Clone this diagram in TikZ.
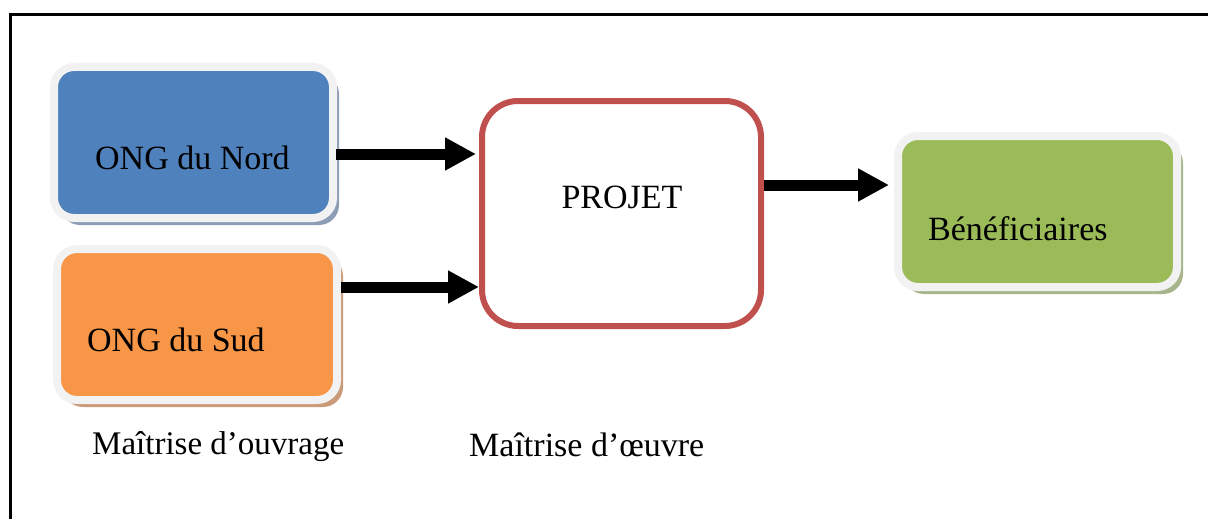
\documentclass[tikz,border=0pt]{standalone}
\usepackage{fontspec}
\setmainfont{Liberation Serif}
\usetikzlibrary{arrows.meta,shadows,calc}
\definecolor{cblue}{HTML}{4F81BD}
\definecolor{corange}{HTML}{F79646}
\definecolor{cgreen}{HTML}{9BBB59}
\definecolor{cred}{HTML}{C0504D}
\definecolor{cborder}{HTML}{F2F2F2}
\definecolor{sblue}{HTML}{8C9DB5}
\definecolor{sorange}{HTML}{C99B78}
\definecolor{sgreen}{HTML}{A8B58C}
\tikzset{
  colbox/.style={rectangle, rounded corners=20pt, draw=cborder, line width=8pt, inner sep=0pt},
  redbox/.style={rectangle, rounded corners=36pt, draw=cred, line width=6pt, fill=white, inner sep=0pt,
    minimum width=279pt, minimum height=225pt},
  txt/.style={font=\fontsize{34}{40}\selectfont, inner sep=0pt, anchor=base west},
  arr/.style={line width=11pt, -{Triangle[length=31pt,width=31pt]}},
}
\begin{document}
\begin{tikzpicture}[x=1pt,y=-1pt]
\useasboundingbox (0,0) rectangle (1208,519);
\draw[line width=3pt] (10,519) -- (10,15) -- (1208,15);
% boxes
\node[colbox, fill=cblue, minimum width=279pt, minimum height=151pt,
  drop shadow={shadow xshift=6pt, shadow yshift=-7pt, fill=sblue, opacity=1}]
  (nord) at (193.5,142.5) {};
\node[colbox, fill=corange, minimum width=280pt, minimum height=151pt,
  drop shadow={shadow xshift=6pt, shadow yshift=-7pt, fill=sorange, opacity=1}]
  (sud) at (197,324.5) {};
\node[colbox, fill=cgreen, minimum width=279pt, minimum height=151pt,
  drop shadow={shadow xshift=6pt, shadow yshift=-7pt, fill=sgreen, opacity=1}]
  (benef) at (1037.5,211.5) {};
\node[redbox] (proj) at (621.5,213.5) {};
% texts
\node[txt] (tnord) at (95,169) {ONG du Nord};
\node[txt] (tsud) at (87,351) {ONG du Sud};
\node[txt] (tbenef) at (928,240) {Bénéficiaires};
\node[txt, anchor=base] (tproj) at (622,208) {PROJET};
\node[txt, font=\fontsize{33}{40}\selectfont] (touv) at (92,454) {Maîtrise d’ouvrage};
\node[txt] (toeuv) at (469,456) {Maîtrise d’œuvre};
% arrows
\draw[arr] ($(nord.east)+(0,11.5)$) ++(-1,0) -- ($(proj.west |- nord.east)+(-3,11.5)$);
\draw[arr] ($(sud.east)+(0,-37.5)$) -- ($(proj.west |- sud.east)+(0,-37.5)$);
\draw[arr] ($(proj.east)+(0,-28.5)$) -- ($(benef.west |- proj.east)+(-5,-28.5)$);
\end{tikzpicture}
\end{document}
